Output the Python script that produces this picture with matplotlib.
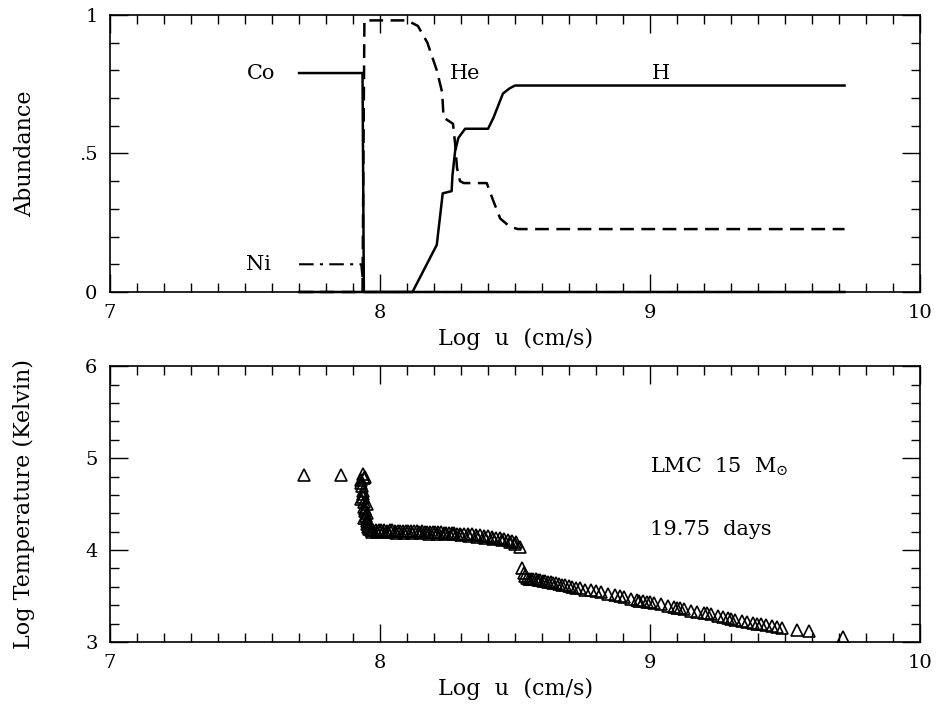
import matplotlib
matplotlib.use("Agg")
import matplotlib.pyplot as plt
from matplotlib.ticker import MultipleLocator, FixedLocator

plt.rcParams['font.family'] = ['DejaVu Serif']
plt.rcParams['mathtext.fontset'] = 'dejavuserif'

# ---- Top panel: abundances vs log velocity ----
co_x = [7.70, 7.935, 7.94, 9.72]
co_y = [0.79, 0.79, 0.0, 0.0]

ni_x = [7.70, 7.93, 7.94, 9.72]
ni_y = [0.10, 0.10, 0.0, 0.0]

he_x = [7.70, 7.935, 7.942, 8.10, 8.14, 8.175, 8.21, 8.23, 8.235, 8.25, 8.27,
        8.278, 8.285, 8.296, 8.31, 8.395, 8.42, 8.445, 8.48, 8.51, 9.72]
he_y = [0.0, 0.0, 0.98, 0.98, 0.96, 0.90, 0.80, 0.72, 0.63, 0.62, 0.607,
        0.535, 0.447, 0.40, 0.393, 0.393, 0.327, 0.265, 0.236, 0.227, 0.227]

h_x = [7.70, 8.12, 8.21, 8.232, 8.265, 8.268, 8.278, 8.29, 8.315, 8.40, 8.42,
       8.455, 8.48, 8.50, 9.72]
h_y = [0.0, 0.0, 0.17, 0.356, 0.364, 0.42, 0.509, 0.556, 0.589, 0.589, 0.629,
       0.716, 0.735, 0.745, 0.745]

species_labels = ["Co", "Ni", "He", "H"]
label_x = [7.56, 7.55, 8.315, 9.04]
label_y = [0.79, 0.10, 0.79, 0.79]

# ---- Bottom panel: log temperature vs log velocity ----
t_x = [7.72, 7.856,
       7.935, 7.945, 7.93, 7.932, 7.935, 7.938, 7.94, 7.942, 7.945, 7.947, 7.95, 7.952, 7.955, 7.958,
       7.928, 7.94, 7.935, 7.93, 7.945, 7.95, 7.94, 7.955, 7.96, 7.952, 7.95,
       7.965, 7.975, 7.985, 7.995, 8.005, 8.015, 8.025, 8.035, 8.045, 8.055, 8.065, 8.075,
       8.085, 8.095, 8.105, 8.115, 8.125, 8.135, 8.145, 8.155, 8.165, 8.175, 8.185, 8.195,
       8.205, 8.215, 8.225, 8.235, 8.245, 8.255, 8.265, 8.275, 8.285, 8.295, 8.31, 8.325,
       8.34, 8.355, 8.37, 8.385, 8.40, 8.415, 8.43, 8.445, 8.46, 8.475, 8.49, 8.505, 8.52,
       7.97, 7.99, 8.01, 8.03, 8.06, 8.09, 8.12, 8.15, 8.18, 8.21, 8.24, 8.27, 8.30,
       8.33, 8.36, 8.39, 8.42, 8.45, 8.48, 8.50,
       8.525, 8.532, 8.538, 8.545, 8.552, 8.56, 8.568, 8.576, 8.585, 8.594, 8.603, 8.612,
       8.622, 8.632, 8.642, 8.652, 8.663, 8.674, 8.686, 8.698, 8.71, 8.725, 8.74, 8.76,
       8.78, 8.80, 8.82, 8.845, 8.87, 8.89, 8.905, 8.93, 8.95, 8.96, 8.975, 8.99, 9.00,
       9.015, 9.04, 9.065, 9.09, 9.10, 9.11, 9.125, 9.15, 9.175, 9.20, 9.21, 9.225, 9.25,
       9.27, 9.29, 9.30, 9.315, 9.34, 9.36, 9.38, 9.395, 9.41, 9.43, 9.45, 9.47, 9.49,
       9.545, 9.588, 9.715]
t_y = [4.82, 4.82,
       4.83, 4.80, 4.76, 4.70, 4.64, 4.58, 4.52, 4.47, 4.42, 4.37, 4.32, 4.28, 4.25, 4.23,
       4.73, 4.78, 4.61, 4.55, 4.45, 4.40, 4.35, 4.30, 4.26, 4.34, 4.50,
       4.22, 4.22, 4.22, 4.22, 4.22, 4.22, 4.21, 4.22, 4.22, 4.21, 4.21, 4.21,
       4.21, 4.21, 4.21, 4.21, 4.21, 4.21, 4.20, 4.21, 4.20, 4.20, 4.20, 4.20,
       4.20, 4.20, 4.20, 4.19, 4.19, 4.19, 4.19, 4.19, 4.18, 4.18, 4.18, 4.17,
       4.17, 4.16, 4.16, 4.15, 4.15, 4.14, 4.13, 4.13, 4.12, 4.11, 4.10, 4.09, 4.03,
       4.20, 4.20, 4.20, 4.20, 4.19, 4.19, 4.19, 4.19, 4.18, 4.18, 4.17, 4.17, 4.16,
       4.15, 4.14, 4.13, 4.12, 4.11, 4.09, 4.07,
       3.80, 3.75, 3.72, 3.70, 3.69, 3.69, 3.68, 3.68, 3.67, 3.67, 3.66, 3.66,
       3.65, 3.65, 3.64, 3.64, 3.63, 3.62, 3.62, 3.61, 3.60, 3.59, 3.59, 3.57,
       3.56, 3.55, 3.54, 3.52, 3.51, 3.50, 3.49, 3.47, 3.46, 3.45, 3.45, 3.44, 3.43,
       3.42, 3.41, 3.39, 3.38, 3.37, 3.37, 3.36, 3.34, 3.33, 3.31, 3.31, 3.30, 3.28,
       3.27, 3.26, 3.25, 3.24, 3.23, 3.22, 3.21, 3.20, 3.19, 3.18, 3.17, 3.16, 3.15,
       3.13, 3.12, 3.05]

fig = plt.figure(figsize=(9.42, 7.07), dpi=100)
ax1 = fig.add_axes([0.1168, 0.5870, 0.8600, 0.3920])
ax2 = fig.add_axes([0.1168, 0.0920, 0.8600, 0.3900])

lw = 1.8
ax1.plot(co_x, co_y, color='black', lw=lw, clip_on=False)
ax1.plot(ni_x, ni_y, color='black', lw=1.5, dashes=(7, 3, 1.5, 3), clip_on=False)
ax1.plot(he_x, he_y, color='black', lw=lw, dashes=(5.5, 3), clip_on=False)
ax1.plot(h_x, h_y, color='black', lw=lw, clip_on=False)
for lab, lx, ly in zip(species_labels, label_x, label_y):
    ax1.text(lx, ly, lab, fontsize=15, ha='center', va='center')

ax2.plot(t_x, t_y, linestyle='none', marker='^', ms=8, mfc='none',
         mec='black', mew=1.2)
ax2.text(9.0, 4.91, r'LMC  15  M$_{\odot}$', fontsize=15, ha='left', va='center')
ax2.text(9.0, 4.22, '19.75  days', fontsize=15, ha='left', va='center')

for ax in (ax1, ax2):
    ax.set_xlim(7, 10)
    ax.xaxis.set_major_locator(FixedLocator([7, 8, 9, 10]))
    ax.xaxis.set_minor_locator(MultipleLocator(0.1))
    ax.tick_params(which='both', direction='in', top=True, right=True,
                   width=1.0, labelsize=14)
    ax.tick_params(which='major', length=13, pad=9)
    ax.tick_params(which='minor', length=6.5)
    for sp in ax.spines.values():
        sp.set_linewidth(1.2)
    ax.set_xlabel('Log  u  (cm/s)', fontsize=16, labelpad=4)

ax1.set_ylim(0, 1)
ax1.yaxis.set_major_locator(FixedLocator([0, 0.5, 1]))
ax1.set_yticklabels(['0', '.5', '1'])
ax1.yaxis.set_minor_locator(MultipleLocator(0.1))
ax1.set_ylabel('Abundance', fontsize=16, labelpad=31)

ax2.set_ylim(3, 6)
ax2.yaxis.set_major_locator(FixedLocator([3, 4, 5, 6]))
ax2.yaxis.set_minor_locator(MultipleLocator(0.2))
ax2.set_ylabel('Log Temperature (Kelvin)', fontsize=16, labelpad=36)

fig.savefig('out.png', dpi=100)
